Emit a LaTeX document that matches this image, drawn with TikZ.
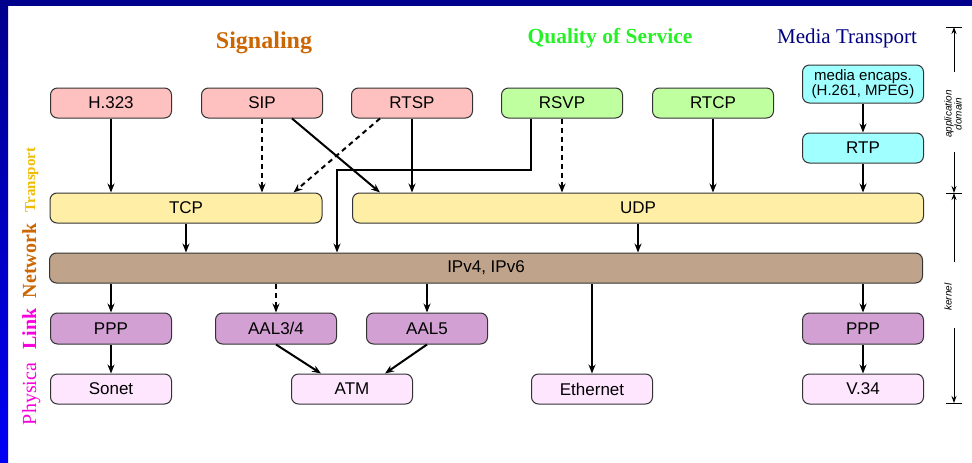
\documentclass[tikz,border=0pt]{standalone}
\usepackage{fontspec}
\setmainfont{Liberation Serif}
\setsansfont{Liberation Sans}
\usetikzlibrary{arrows.meta}
\definecolor{framedark}{RGB}{0,0,140}
\definecolor{framelight}{RGB}{0,0,245}
\definecolor{sigfill}{RGB}{255,192,192}
\definecolor{qosfill}{RGB}{192,255,160}
\definecolor{medfill}{RGB}{160,255,255}
\definecolor{trfill}{RGB}{255,238,165}
\definecolor{netfill}{RGB}{191,163,138}
\definecolor{linkfill}{RGB}{210,160,210}
\definecolor{phyfill}{RGB}{255,230,255}
\definecolor{sigtext}{RGB}{204,102,0}
\definecolor{qostext}{RGB}{40,240,40}
\definecolor{medtext}{RGB}{0,0,128}
\definecolor{trtext}{RGB}{240,188,0}
\definecolor{linktext}{RGB}{250,0,220}
\begin{document}
\begin{tikzpicture}[x=1pt,y=-1pt,
	box/.style={draw=black!80,line width=1pt,rounded corners=7pt,minimum width=121pt,minimum height=30pt,inner sep=0pt,font=\sffamily\fontsize{17}{17}\selectfont},
	arr/.style={line width=2pt,-{Stealth[length=9pt,width=7pt]}},
	darr/.style={arr,dash pattern=on 5pt off 4pt},
	sarr/.style={line width=1pt,-{Stealth[length=7pt,width=5pt]}},
	layer/.style={rotate=90,anchor=base,font=\bfseries\fontsize{20}{20}\selectfont}]
	\fill[white] (0,0) rectangle (972,463);
	\fill[framedark] (0,0) rectangle (972,6);
	\shade[top color=framedark,bottom color=framelight] (0,0) rectangle (8,463);
	\useasboundingbox (0,0) rectangle (972,463);
	\node[anchor=base,text=sigtext,font=\bfseries\fontsize{24}{24}\selectfont] (signaling) at (264,48) {Signaling};
	\node[anchor=base,text=qostext,font=\bfseries\fontsize{21.5}{21.5}\selectfont] (qos) at (610,43) {Quality of Service};
	\node[anchor=base,text=medtext,font=\fontsize{21}{21}\selectfont] (media) at (847,43) {Media Transport};
	\node[layer,text=trtext,font=\bfseries\fontsize{15}{15}\selectfont] (ltr) at (35,180) {Transport};
	\node[layer,text=sigtext] (lnet) at (36,261) {Network};
	\node[layer,text=linktext] (llink) at (36,329) {Link};
	\node[layer,text=linktext,font=\fontsize{20}{20}\selectfont] (lphy) at (36,394) {Physica};
	\node[box,fill=sigfill] (h323) at (111,103) {H.323};
	\node[box,fill=sigfill] (sip) at (262,103) {SIP};
	\node[box,fill=sigfill] (rtsp) at (412,103) {RTSP};
	\node[box,fill=qosfill] (rsvp) at (562,103) {RSVP};
	\node[box,fill=qosfill] (rtcp) at (713,103) {RTCP};
	\node[box,fill=medfill,minimum height=38pt,align=center,font=\sffamily\fontsize{15}{15}\selectfont] (encaps) at (863,84) {media encaps.\\(H.261, MPEG)};
	\node[box,fill=medfill] (rtp) at (863,148) {RTP};
	\node[box,fill=trfill,minimum width=272pt] (tcp) at (186,208) {TCP};
	\node[box,fill=trfill,minimum width=571pt] (udp) at (638,208) {UDP};
	\node[box,fill=netfill,minimum width=873pt] (ip) at (486,268) {IPv4, IPv6};
	\node[box,fill=linkfill,minimum height=31pt] (ppp1) at (111,328.5) {PPP};
	\node[box,fill=linkfill,minimum height=31pt] (aal34) at (276,328.5) {AAL3/4};
	\node[box,fill=linkfill,minimum height=31pt] (aal5) at (427,328.5) {AAL5};
	\node[box,fill=linkfill,minimum height=31pt] (ppp2) at (863,328.5) {PPP};
	\node[box,fill=phyfill] (sonet) at (111,389) {Sonet};
	\node[box,fill=phyfill] (atm) at (352,389) {ATM};
	\node[box,fill=phyfill] (eth) at (592,389) {Ethernet};
	\node[box,fill=phyfill] (v34) at (863,389) {V.34};
	\foreach \a/\b in {h323/tcp,rtsp/udp,rtcp/udp,encaps/rtp,rtp/udp,tcp/ip,udp/ip,ppp1/sonet,ppp2/v34}
		\draw[arr] (\a.south) -- (\a.south |- \b.north);
	\foreach \a/\b in {sip/tcp,rsvp/udp}
		\draw[darr] (\a.south) -- (\a.south |- \b.north);
	\foreach \b in {ppp1,aal5,eth,ppp2}
		\draw[arr] (\b.north |- ip.south) -- (\b.north);
	\draw[darr] (aal34.north |- ip.south) -- (aal34.north);
	\draw[arr] ([xshift=30pt]sip.south) -- ([xshift=28pt]udp.north west);
	\draw[darr] ([xshift=-32pt]rtsp.south) -- ([xshift=-29pt]tcp.north east);
	\draw[arr] ([xshift=-31pt]rsvp.south) -- ++(0,51) -| (aal34.east |- ip.north);
	\draw[arr] (aal34.south) -- ([xshift=-31pt]atm.north);
	\draw[arr] (aal5.south) -- ([xshift=33pt]atm.north);
	\coordinate (apptop) at (954,27);
	\coordinate (appbot) at (954,193);
	\coordinate (kerbot) at (954,403);
	\foreach \c in {apptop,appbot,kerbot}
		\draw[line width=1pt] ([xshift=-8pt]\c) -- ([xshift=8pt]\c);
	\node[rotate=90,align=center,font=\sffamily\itshape\fontsize{10}{10}\selectfont] (appdom) at (953,114) {application\\domain};
	\node[rotate=90,font=\sffamily\itshape\fontsize{10}{10}\selectfont] (kernel) at (948,297) {kernel};
	\draw[sarr] (954,72) -- (apptop);
	\draw[sarr] (954,152) -- (appbot);
	\draw[sarr] (954,262) -- (appbot);
	\draw[sarr] (954,328) -- (kerbot);
\end{tikzpicture}
\end{document}
